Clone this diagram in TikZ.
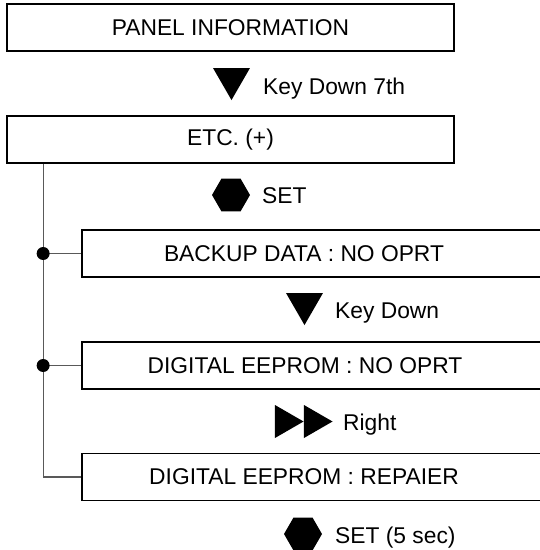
\documentclass[tikz,border=0pt]{standalone}
\usepackage{fontspec}
\setmainfont{Liberation Sans}
\usetikzlibrary{shapes.geometric}

\begin{document}
\begin{tikzpicture}[x=1pt, y=-1pt, font=\fontsize{22.8}{26}\selectfont,
  menubox/.style={draw, line width=1.7pt, minimum height=47pt, inner sep=0pt},
  keydown/.style={regular polygon, regular polygon sides=3, shape border rotate=180,
    fill=black, minimum size=42.7pt, inner sep=0pt},
  keyright/.style={regular polygon, regular polygon sides=3, shape border rotate=-90,
    fill=black, minimum size=38.1pt, inner sep=0pt},
  setkey/.style={regular polygon, regular polygon sides=6, fill=black,
    minimum size=38pt, inner sep=0pt},
  keytext/.style={anchor=base west, inner sep=0pt},
  link/.style={draw=black!65, line width=1.1pt},
  joint/.style={circle, fill=black, minimum size=13pt, inner sep=0pt}]
  \useasboundingbox (0,0) rectangle (540,550);
  \clip (0,0) rectangle (540,550);
  % menu boxes
  \node[menubox, minimum width=447pt] (panel) at (230.5,27.5) {PANEL INFORMATION};
  \node[menubox, minimum width=447pt] (etc) at (230.5,139.5) {ETC. (+)};
  \node[menubox, minimum width=480pt, anchor=west] (backup) at (81,253.5) {};
  \node (backupt) at (304,253.5) {BACKUP DATA : NO OPRT};
  \node[menubox, minimum width=480pt, anchor=west] (eeprom) at (81,365.5) {};
  \node (eepromt) at (305,365.5) {DIGITAL EEPROM : NO OPRT};
  \node[menubox, minimum width=480pt, anchor=west] (repair) at (81,477) {};
  \node (repairt) at (304,477) {DIGITAL EEPROM : REPAIER};
  % keys
  \node[keydown] (kd1) at (231.5,78.7) {};
  \node[keytext] (kd1t) at (263,94) {Key Down 7th};
  \node[setkey] (set1) at (231,195) {};
  \node[keytext] (set1t) at (262,203) {SET};
  \node[keydown] (kd2) at (304.5,303.7) {};
  \node[keytext] (kd2t) at (335,318) {Key Down};
  \node[keyright] (kr1) at (284.5,421.5) {};
  \node[keyright] (kr2) at (313.5,421.5) {};
  \node[keytext] (krt) at (343,430) {Right};
  \node[setkey] (set2) at (303,534) {};
  \node[keytext] (set2t) at (335,543) {SET (5 sec)};
  % tree lines
  \coordinate (fork) at ([xshift=37pt]etc.south west);
  \coordinate (j1) at (fork |- backup.west);
  \coordinate (j2) at (fork |- eeprom.west);
  \coordinate (corner) at (fork |- repair.west);
  \draw[link] (fork) -- (corner) -- (repair.west);
  \draw[link] (j1) -- (backup.west);
  \draw[link] (j2) -- (eeprom.west);
  \node[joint] (dot1) at (j1) {};
  \node[joint] (dot2) at (j2) {};
\end{tikzpicture}
\end{document}
